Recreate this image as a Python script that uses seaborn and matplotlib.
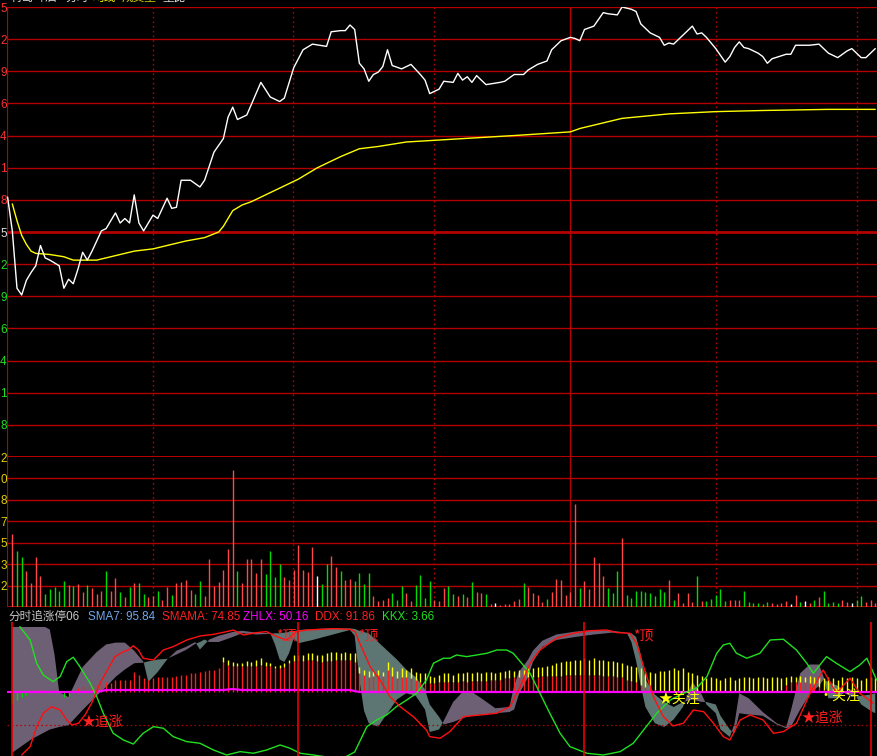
import matplotlib
matplotlib.use("Agg")
import matplotlib.pyplot as plt
import seaborn as sns

# ---------------- data ----------------
# minute index (0 = first bar) for the intraday price trace
price_k = [-1, 0, 1, 2, 3, 4, 5, 6, 7, 8, 10, 11, 12, 13, 14, 15, 16, 17, 19, 20,
           22, 23, 24, 25, 26, 27, 28, 30, 31, 33, 34, 35, 36, 38, 40, 41, 43, 45, 46, 47,
           48, 50, 53, 55, 57, 58, 60, 62, 64, 67, 68, 70, 71, 72, 73, 74, 75, 76, 77, 78,
           79, 80, 81, 83, 85, 87, 88, 89, 91, 92, 94, 95, 96, 97, 98, 99, 101, 104, 105, 107,
           109, 110, 112, 114, 115, 117, 119, 120, 121, 122, 124, 126, 127, 129, 130, 132, 133, 134, 136, 138,
           139, 140, 141, 143, 145, 146, 147, 148, 150, 152, 153, 154, 155, 156, 157, 159, 160, 161, 162, 165,
           166, 167, 170, 172, 174, 176, 178, 179, 180, 181, 182, 183, 184]
price = [8.881, 8.851, 8.800, 8.794, 8.807, 8.814, 8.820, 8.838, 8.827, 8.825,
         8.820, 8.800, 8.808, 8.804, 8.817, 8.832, 8.825, 8.833, 8.851, 8.853,
         8.867, 8.858, 8.862, 8.858, 8.883, 8.858, 8.851, 8.865, 8.862, 8.880,
         8.871, 8.872, 8.896, 8.896, 8.890, 8.896, 8.921, 8.933, 8.952, 8.961,
         8.950, 8.954, 8.983, 8.970, 8.966, 8.969, 8.996, 9.012, 9.017, 9.015,
         9.028, 9.029, 9.029, 9.034, 9.030, 9.000, 8.995, 8.984, 8.990, 8.992,
         8.997, 9.012, 8.998, 8.995, 8.999, 8.990, 8.985, 8.973, 8.977, 8.984,
         8.983, 8.991, 8.985, 8.988, 8.983, 8.989, 8.981, 8.983, 8.984, 8.990,
         8.990, 8.994, 8.999, 9.002, 9.012, 9.020, 9.023, 9.022, 9.020, 9.030,
         9.033, 9.045, 9.044, 9.043, 9.050, 9.048, 9.046, 9.035, 9.027, 9.023,
         9.016, 9.018, 9.017, 9.025, 9.033, 9.026, 9.027, 9.023, 9.013, 9.001,
         9.006, 9.014, 9.019, 9.014, 9.013, 9.009, 9.006, 9.000, 9.004, 9.008,
         9.008, 9.016, 9.016, 9.017, 9.009, 9.005, 9.011, 9.013, 9.009, 9.005,
         9.005, 9.009, 9.013]

avg_k = [0, 1, 2, 3, 4, 5, 8, 11, 13, 18, 20, 26, 30, 34, 37, 41, 44, 45, 47, 49,
         51, 54, 57, 61, 65, 70, 74, 78, 84, 92, 108, 119, 121, 126, 130, 135, 140, 150, 160, 174, 184]
avg_price = [8.875, 8.860, 8.847, 8.839, 8.833, 8.831, 8.830, 8.828, 8.825, 8.825,
             8.827, 8.833, 8.835, 8.839, 8.842, 8.845, 8.850, 8.855, 8.869, 8.874,
             8.877, 8.883, 8.889, 8.897, 8.907, 8.917, 8.924, 8.926, 8.930, 8.932,
             8.936, 8.939, 8.942, 8.947, 8.951, 8.953, 8.955, 8.957, 8.958, 8.959, 8.959]

prev_close = 8.85
price_half_range = 0.20

volume = [584, 448, 400, 288, 192, 400, 248, 104, 144, 160, 128, 208, 176, 168, 184, 120, 176, 152, 104, 128,
          288, 128, 232, 120, 80, 160, 192, 192, 104, 80, 88, 128, 56, 160, 96, 192, 200, 216, 136, 104,
          208, 88, 384, 168, 200, 296, 464, 1096, 288, 192, 384, 384, 272, 384, 264, 448, 240, 344, 240, 216,
          296, 496, 296, 280, 480, 248, 184, 344, 408, 320, 288, 216, 224, 208, 272, 184, 272, 88, 48, 56,
          72, 112, 56, 168, 112, 48, 176, 256, 72, 208, 56, 48, 152, 168, 104, 88, 104, 80, 200, 120,
          112, 104, 24, 32, 16, 24, 24, 48, 64, 192, 160, 112, 96, 40, 64, 120, 224, 216, 96, 120,
          824, 152, 208, 144, 400, 352, 248, 152, 112, 288, 552, 96, 72, 128, 128, 120, 112, 88, 144, 120,
          216, 56, 112, 32, 112, 40, 248, 48, 48, 64, 96, 144, 48, 56, 56, 56, 128, 40, 32, 32,
          24, 40, 32, 24, 32, 48, 24, 96, 40, 48, 32, 56, 80, 128, 32, 40, 32, 56, 40, 32,
          56, 88, 40, 56, 32]
# r = up, g = down, w = flat
volume_dir = list("rggrrrrggg" "ggrgrrgrrr" "grrgrgrggr" "rgrrgrrrrg" "grrrrrrrgr"
                  "rrrrggggrr" "rrrrrwggrr" "grrggggrrr" "rgggrrgggg" "rrrggrgrgr"
                  "rgrwrrrrrg" "rrrrgrrrrr" "rgrrrrrggg" "rggggggggg" "rgrrrrgrgg"
                  "gggrrrgggg" "ggrrrrwrgw" "rgrggggrrw" "ggrrr")

price_tick_digits = ["8", "1", "4", "6", "9", "2", "5", "8", "1", "4", "6", "9", "2", "5"]
volume_tick_digits = ["2", "3", "5", "7", "8", "0", "2"]
volume_top = 1200

time_lines = [29.9, 59.9, 90, 150, 180]
midday_line = 119

# indicator panel (scale roughly 0..100, baseline 50)
ind_red = [41, 44, 46, 48, 52, 51, 52, 51, 49, 52, 51, 46, 47, 52, 53, 55, 52, 55, 56, 58,
           58, 57, 60, 60, 60, 60, 66, 64, 61, 60, 61, 62, 62, 62, 62, 63, 64, 64, 65, 65,
           66, 67, 68, 68, 69, 74, 72, 71, 71, 71, 71, 71, 71, 72, 71, 71, 69, 69, 70, 73,
           75, 75, 75, 76, 76, 75, 74, 75, 75, 76, 76, 76, 76, 74, 65, 64, 62, 63, 64, 63,
           68, 63, 61, 62, 62, 61, 60, 58, 57, 57, 57, 58, 58, 58, 58, 58, 59, 58, 59, 59,
           59, 59, 60, 60, 60, 61, 61, 62, 62, 62, 62, 62, 62, 63, 63, 63, 63, 63, 64, 64,
           64, 64, 64, 64, 64, 64, 63, 63, 63, 62, 62, 60, 59, 58, 56, 54, 53, 52, 51, 51,
           51, 51, 51, 51, 51, 51, 51, 51, 51, 51, 51, 51, 51, 51, 51, 51, 51, 51, 51, 51,
           51, 51, 51, 51, 52, 56, 58, 58, 58, 58, 57, 56, 54, 52, 51, 51, 51, 51, 51, 51,
           51, 51, 51, 51, 51]
ind_yellow = [41, 44, 46, 48, 52, 51, 52, 51, 49, 52, 51, 46, 47, 52, 53, 55, 52, 55, 56, 58,
              58, 57, 60, 60, 60, 60, 66, 64, 61, 60, 61, 62, 62, 62, 62, 63, 64, 64, 65, 65,
              66, 67, 68, 68, 69, 78, 76, 74, 73, 73, 75, 74, 76, 77, 74, 73, 71, 72, 73, 76,
              80, 80, 80, 81, 81, 80, 80, 81, 82, 82, 81, 82, 81, 81, 70, 68, 67, 67, 68, 66,
              74, 70, 67, 69, 68, 69, 66, 65, 65, 63, 62, 64, 65, 65, 64, 65, 65, 66, 65, 66,
              65, 66, 66, 65, 66, 67, 68, 67, 68, 68, 69, 69, 70, 70, 71, 72, 73, 74, 75, 75,
              76, 76, 77, 76, 77, 76, 76, 75, 75, 74, 73, 72, 71, 70, 69, 67, 66, 65, 67, 67,
              68, 69, 68, 69, 66, 65, 64, 63, 61, 62, 61, 60, 61, 62, 60, 61, 62, 62, 61, 62,
              62, 61, 62, 62, 61, 62, 63, 62, 63, 62, 63, 62, 62, 61, 62, 61, 60, 62, 61, 62,
              61, 60, 61, 62, 61]

band_k = [0, 4, 7, 8, 9, 10, 12, 15, 18, 20, 22, 24, 26, 28, 29, 31, 33, 35, 37, 39,
          40, 41, 42, 44, 47, 49, 52, 55, 56, 57, 58, 59, 60, 61, 64, 68, 72, 73, 74, 75,
          76, 78, 80, 82, 84, 86, 88, 89, 91, 92, 94, 96, 98, 100, 103, 106, 107, 108, 110, 111,
          113, 116, 120, 124, 128, 131, 132, 133, 134, 135, 137, 139, 141, 143, 145, 147, 148, 150, 151, 153,
          154, 155, 157, 160, 163, 165, 166, 168, 170, 172, 173, 174, 176, 177.5, 179, 181, 183, 184]
sma7 = [102, 102, 102, 100, 80, 50, 46, 70, 82, 88, 89.5, 89.5, 83, 74, 58, 66, 76, 83, 86, 90,
        84, 88, 92, 95, 98, 99, 97.5, 97, 88, 76, 74, 81, 93, 89, 91.6, 95.6, 99.6, 95, 60, 35,
        25, 22.3, 33, 44, 49, 47, 36, 18, 20, 27, 42, 50, 50, 45, 37, 38, 55, 66, 76, 83,
        91, 96, 98.3, 99.6, 99, 97.5, 90, 75, 55, 38, 25, 22, 28, 38, 58, 48, 40, 33, 20, 14,
        25, 49, 45, 34, 25, 22, 35, 65, 72, 72, 62, 45, 45, 50, 52, 40, 35, 33]
sma7_ma = [1.5, 12, 18, 20, 21, 22, 23.5, 35.6, 47, 54, 62, 68, 73, 73.5, 74.5, 76, 76.5, 80, 83.6, 88.5,
           90, 92, 90, 90, 94, 97, 96, 96.5, 97, 97, 97.5, 98, 98.5, 99.6, 100.3, 100.9, 100.9, 100.5, 99, 98,
           96.9, 90, 83, 76, 68, 62, 52, 40, 30, 24, 26, 29, 31, 32, 33, 34, 36, 48, 62, 74,
           86, 91.6, 94, 96, 97.5, 97, 97, 94, 80, 60, 48, 42, 38, 42, 44, 42, 42, 40, 31, 20,
           17, 33, 32, 31, 24, 21, 22, 36, 48, 55, 60, 58, 55, 49, 46, 47, 48, 49]

ddx_k = [2, 3.8, 5.2, 6.6, 8.4, 10.2, 11.6, 12.7, 14.1, 15.5, 16.9, 18.7, 20.5, 21.9, 23.7, 24.7, 25.8, 26.9, 27.9, 30.1,
         32.2, 34.3, 37.2, 40, 42.9, 45.7, 47.1, 49.3, 52.1, 54.2, 56.4, 58.5, 60.6, 62.8, 68.5, 72, 73.1, 74.1, 76.3, 78.4,
         80.5, 82.7, 85.5, 88.3, 89, 91.2, 93.3, 96.2, 99.7, 103.3, 106.1, 108.3, 110.4, 112.5, 116, 119.6, 123.2, 126.7, 128.9, 131.7,
         133.1, 134.6, 136.7, 138.8, 140.9, 143.1, 145.2, 147.4, 149.5, 151.6, 153, 155.2, 157.3, 160.1, 162.3, 164.4, 167.2, 170.1, 172.9, 175.7,
         178.6, 180.7, 183.6]
ddx = [-0.4, 6.3, 22.3, 33, 38.3, 35.6, 27.6, 23.6, 25, 31.6, 41, 57, 69, 78.3, 82.3, 83.6, 87, 83.6, 77, 75.6,
       83.6, 86.3, 91.6, 94.8, 96.1, 98.3, 99.6, 95.6, 97.5, 98.3, 94.3, 91.6, 98.3, 99.6, 100.7, 100.1, 98.3, 89, 70.3, 59.6,
       46.3, 38.3, 30.3, 19.6, 14.3, 13, 18.3, 30.3, 31.6, 33, 38.3, 54.3, 73, 83.6, 93, 97, 99, 99.6, 97.5, 97,
       89, 70.3, 46.3, 30.3, 22.8, 25, 35.6, 34.3, 25, 14.3, 11.6, 27.6, 31.6, 27.6, 16.9, 18.3, 25, 49, 67.6, 49,
       61, 49, 41]

kkx_k = [1.6, 3.8, 5.2, 6.6, 8.7, 10.2, 11.6, 13, 14.4, 16.6, 18, 19.4, 21.5, 23.7, 25.8, 27.9, 30.1, 32.2, 34.3, 37.2,
         40, 42.9, 45.7, 48.6, 51.4, 54.2, 57.1, 59.2, 61.4, 64.2, 67, 71, 73, 75.6, 77.7, 79.8, 81.9, 84.1, 86.2, 88.3,
         89.8, 91.9, 93.3, 94.7, 96.9, 99, 101.2, 103.3, 105.4, 106.8, 108.3, 110.4, 112.5, 114.6, 116.8, 118.9, 122.5, 126, 129.6, 132.4,
         134.6, 137.4, 140.3, 143.1, 145.9, 148.1, 150.2, 151.6, 153, 154.4, 156.6, 159.4, 161.6, 164.4, 167.2, 169.4, 170.8, 173.6, 175.7, 178.6,
         180.7, 182.2, 184.3]
kkx = [102.3, 91.6, 73, 63.6, 58.3, 62.3, 74.3, 77.8, 70.3, 57, 46.3, 33, 17, 11.6, 8.4, 17, 22.3, 21, 14.3, 10.3,
       9, 3.6, -0.4, 2.3, 1, 3.6, 7.6, 5, 1, -0.4, -2, -2, 2, 22.3, 27.6, 31.6, 38.3, 43.6, 49, 59.6,
       73, 77, 77, 79.6, 78.3, 79.6, 81, 83.6, 83.6, 81, 74.3, 65, 49, 33, 17, 6.3, 1, -0.4, 2.3, 9,
       19.6, 33, 43.6, 49, 53, 62.3, 81, 87.6, 89, 81, 77, 81, 91.6, 92.2, 83.6, 73, 65, 78.3, 73, 66.3,
       71.6, 77, 59.6]

zhlx_k = [-1, 18, 20, 45, 47, 49, 72, 74, 185]
zhlx = [50, 50, 51.6, 51.6, 52.4, 51.6, 51.6, 50, 50]

signal_lines = [-0.1, 60.9, 121.9, 183]
dotted_level = 24

# (text, minute, level, colour, size)
signals = [("★追涨", 14.8, 26, "#FF2020", 10),
           ("*顶", 56.3, 95.5, "#FF2020", 10),
           ("*顶", 73.8, 95.5, "#FF2020", 10),
           ("*顶", 132.3, 95.5, "#FF2020", 10),
           ("★关注", 137.8, 43.6, "#FFFF00", 10),
           ("•关注", 172.0, 46, "#FFFF00", 10),
           ("★追涨", 168.3, 29, "#FF2020", 10)]

title_parts = [("分时追涨停06", "#C8C8C8"), ("SMA7: 95.84", "#6FA8E8"),
               ("SMAMA: 74.85", "#FF2020"), ("ZHLX: 50.16", "#FF00FF"),
               ("DDX: 91.86", "#FF2020"), ("KKX: 3.66", "#20E020")]
title_x = [8, 88, 162, 243, 315, 382]

# header line, cut off by the top of the window
header_parts = [("青岛啤酒", "#E0E0E0"), ("分时", "#E0E0E0"), ("均线", "#FFFF00"),
                ("成交量", "#D0D000"), ("量比", "#E0E0E0")]
header_x = [10, 65, 93, 122, 162]

# ---------------- styling ----------------
sns.set_style("dark", {"axes.facecolor": "black", "figure.facecolor": "black"})
plt.rcParams['font.family'] = ['Liberation Sans', 'Noto Sans CJK SC', 'DejaVu Sans']

GRID = "#B40000"
LINE_RED = "#E80000"
VOL_COLORS = {"r": "#FF4848", "g": "#00DC00", "w": "#FFFFFF"}

W, H = 877, 756
fig = plt.figure(figsize=(W / 100, H / 100), dpi=100)
fig.patch.set_facecolor("black")


def panel(top, bottom, left=7, right=877):
    ax = fig.add_axes([left / W, 1 - bottom / H, (right - left) / W, (bottom - top) / H])
    ax.set_facecolor("black")
    for s in ax.spines.values():
        s.set_visible(False)
    ax.set_xticks([])
    ax.tick_params(axis="y", length=0, pad=0.2, labelsize=8.5)
    ax.set_xlim(-1.13, 184.37)
    return ax


ax_p = panel(7, 457)
ax_v = panel(457, 607)
ax_i = panel(622, 756)

# ---------------- price panel ----------------
ax_p.set_ylim(prev_close - price_half_range, prev_close + price_half_range)
step = 2 * price_half_range / 14
levels = [prev_close - price_half_range + step * i for i in range(1, 15)]
for i, lv in enumerate(levels):
    lw = 2.0 if i == 6 else 1.0
    ax_p.axhline(lv, color=GRID, lw=lw, zorder=1)
ax_p.axhline(prev_close - price_half_range, color=GRID, lw=2.2, zorder=1)
ax_p.set_yticks(levels)
ax_p.set_yticklabels(price_tick_digits)
for i, lab in enumerate(ax_p.get_yticklabels()):
    lab.set_color("#FF3030" if i > 6 else ("#E0E0E0" if i == 6 else "#20E020"))

for ax in (ax_p, ax_v):
    ax.axvline(-1.13, color=GRID, lw=1.6, zorder=1)
    for t in time_lines:
        ax.axvline(t, color=GRID, lw=1.0, ls=(0, (1.2, 2.2)), zorder=1)
    ax.axvline(midday_line, color=GRID, lw=1.0, zorder=1)

sns.lineplot(x=avg_k, y=avg_price, ax=ax_p, color="#FFFF00", lw=1.0, estimator=None, sort=False, zorder=3)
sns.lineplot(x=price_k, y=price, ax=ax_p, color="white", lw=1.0, estimator=None, sort=False, zorder=4)
ax_p.set_xlabel("")
ax_p.set_ylabel("")

# ---------------- volume panel ----------------
ax_v.set_ylim(0, volume_top)
vstep = volume_top / 7
vlevels = [vstep * i for i in range(1, 8)]
for lv in vlevels[:-1]:
    ax_v.axhline(lv, color=GRID, lw=1.0, zorder=1)
ax_v.axhline(0, color=GRID, lw=1.4, zorder=1)
ax_v.set_yticks(vlevels)
ax_v.set_yticklabels(volume_tick_digits)
for lab in ax_v.get_yticklabels():
    lab.set_color("#E6D200")
for d in "rgw":
    ks = [k for k, c in enumerate(volume_dir) if c == d]
    ax_v.vlines(ks, 0, [volume[k] for k in ks], color=VOL_COLORS[d], lw=1.0, zorder=3)

# ---------------- indicator panel ----------------
ax_i.set_ylim(-1.2, 106)
ax_i.set_yticks([])
a = sma7
b = sma7_ma
ax_i.fill_between(band_k, a, b, where=[x >= y for x, y in zip(a, b)], interpolate=True,
                  color="#6E6074", lw=0, zorder=1)
ax_i.fill_between(band_k, a, b, where=[x < y for x, y in zip(a, b)], interpolate=True,
                  color="#5D7573", lw=0, zorder=1)
ax_i.axhline(dotted_level, color=GRID, lw=0.9, ls=(0, (1.2, 2.2)), zorder=2)

bar_k = list(range(len(ind_red)))
up = [k for k in bar_k if ind_red[k] >= 50]
dn = [k for k in bar_k if ind_red[k] < 50]
ax_i.vlines(up, 50, [ind_red[k] for k in up], color="#FF1E1E", lw=1.0, zorder=3)
ax_i.vlines(dn, 50, [ind_red[k] for k in dn], color="#00DC00", lw=1.0, zorder=3)
yk = [k for k in bar_k if ind_yellow[k] > ind_red[k]]
ax_i.vlines(yk, [ind_red[k] for k in yk], [ind_yellow[k] for k in yk], color="#FFFF00", lw=1.0, zorder=3)

sns.lineplot(x=zhlx_k, y=zhlx, ax=ax_i, color="#FF00FF", lw=1.6, estimator=None, sort=False, zorder=4)
sns.lineplot(x=kkx_k, y=kkx, ax=ax_i, color="#20E020", lw=1.0, estimator=None, sort=False, zorder=5)
sns.lineplot(x=ddx_k, y=ddx, ax=ax_i, color="#FF1010", lw=1.0, estimator=None, sort=False, zorder=6)
for t in signal_lines:
    ax_i.axvline(t, color=LINE_RED, lw=1.2, zorder=6)
ax_i.set_xlabel("")
ax_i.set_ylabel("")

for txt, k, lv, col, fs in signals:
    ax_i.text(k, lv, txt, color=col, fontsize=fs, ha="left", va="center", zorder=7,
              family=["Noto Sans CJK SC", "DejaVu Sans"])

for (txt, col), x in zip(title_parts, title_x):
    fig.text(x / W, 1 - 617 / H, txt, color=col, fontsize=8.4, ha="left", va="center",
             family=["Liberation Sans", "Noto Sans CJK SC"])

for (txt, col), x in zip(header_parts, header_x):
    fig.text(x / W, 1 - 4 / H, txt, color=col, fontsize=8.4, ha="left", va="bottom",
             family=["Noto Sans CJK SC", "DejaVu Sans"])

fig.savefig("out.png", dpi=100, facecolor="black")
